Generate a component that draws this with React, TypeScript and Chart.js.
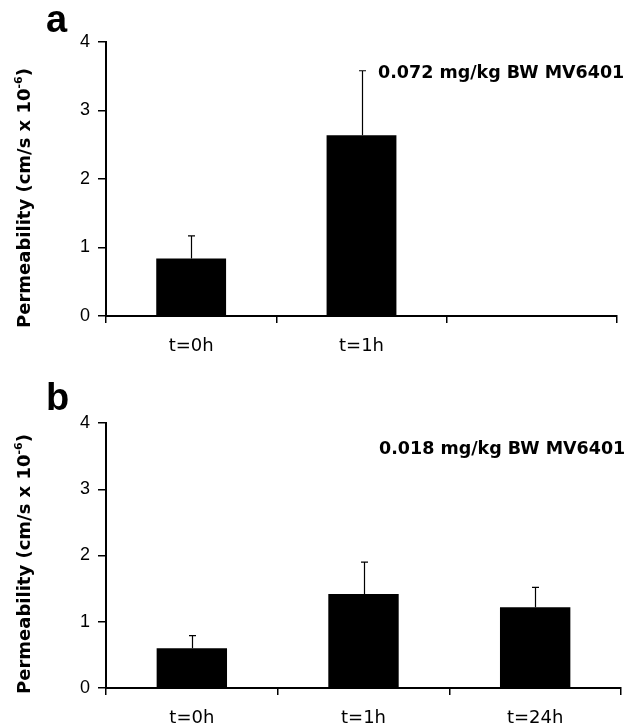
import React, { useEffect, useRef } from "react";
import { Chart, registerables } from "chart.js";

Chart.register(...registerables);

// ---- data ----
const labelsA = ["t=0h", "t=1h", ""];
const valuesA = [0.84, 2.64, null];
const errorsA = [0.33, 0.94, null];

const labelsB = ["t=0h", "t=1h", "t=24h"];
const valuesB = [0.6, 1.42, 1.22];
const errorsB = [0.19, 0.48, 0.3];

const yMin = 0;
const yMax = 4;
const yStep = 1;

const yTitleMain = "Permeability (cm/s x 10";
const yTitleSup = "-6";
const yTitleEnd = ")";

const annotationA = "0.072 mg/kg BW MV6401";
const annotationB = "0.018 mg/kg BW MV6401";

type PanelCfg = {
  letter: string;
  labels: string[];
  values: (number | null)[];
  errors: (number | null)[];
  annotation: string;
  top: number;
  right: number;
  bottom: number;
  letterBaseline: number;
  titleCenterY: number;
  annX: number;
  annBaseline: number;
};

const W = 630;
const H = 364;

const panels: PanelCfg[] = [
  {
    letter: "a",
    labels: labelsA,
    values: valuesA,
    errors: errorsA,
    annotation: annotationA,
    top: 42,
    right: 617,
    bottom: 316,
    letterBaseline: 32,
    titleCenterY: 198,
    annX: 378,
    annBaseline: 78,
  },
  {
    letter: "b",
    labels: labelsB,
    values: valuesB,
    errors: errorsB,
    annotation: annotationB,
    top: 59,
    right: 621,
    bottom: 324,
    letterBaseline: 46,
    titleCenterY: 200,
    annX: 379,
    annBaseline: 90,
  },
];

function Panel({ cfg }: { cfg: PanelCfg }) {
  const ref = useRef<HTMLCanvasElement | null>(null);

  useEffect(() => {
    if (!ref.current) return;
    const decor = {
      id: "decor",
      afterDatasetsDraw(chart: any) {
        const ctx = chart.ctx as CanvasRenderingContext2D;
        const ys = chart.scales.y;
        const meta = chart.getDatasetMeta(0);
        ctx.save();
        ctx.strokeStyle = "#000";
        ctx.lineWidth = 1.2;
        meta.data.forEach((bar: any, i: number) => {
          const v = cfg.values[i];
          const e = cfg.errors[i];
          if (v == null || e == null) return;
          const x = Math.round(bar.x) + 0.5;
          const yTop = ys.getPixelForValue(v + e);
          ctx.beginPath();
          ctx.moveTo(x, bar.y);
          ctx.lineTo(x, yTop);
          ctx.moveTo(x - 3.5, yTop);
          ctx.lineTo(x + 3.5, yTop);
          ctx.stroke();
        });
        ctx.restore();
      },
      afterDraw(chart: any) {
        const ctx = chart.ctx as CanvasRenderingContext2D;
        ctx.save();
        ctx.fillStyle = "#000";
        // panel letter
        ctx.font = "bold 38px 'Liberation Sans', Arial, sans-serif";
        ctx.textAlign = "left";
        ctx.textBaseline = "alphabetic";
        ctx.fillText(cfg.letter, 46, cfg.letterBaseline);
        // annotation
        ctx.font = "bold 17.5px 'DejaVu Sans', sans-serif";
        ctx.fillText(cfg.annotation, cfg.annX, cfg.annBaseline);
        // y title rotated
        ctx.translate(25, cfg.titleCenterY);
        ctx.rotate(-Math.PI / 2);
        const mainFont = "bold 18px 'DejaVu Sans', sans-serif";
        const supFont = "bold 11px 'DejaVu Sans', sans-serif";
        ctx.font = mainFont;
        const w1 = ctx.measureText(yTitleMain).width;
        const w3 = ctx.measureText(yTitleEnd).width;
        ctx.font = supFont;
        const w2 = ctx.measureText(yTitleSup).width;
        const start = -(w1 + w2 + w3) / 2;
        ctx.textBaseline = "middle";
        ctx.font = mainFont;
        ctx.fillText(yTitleMain, start, 0);
        ctx.font = supFont;
        ctx.fillText(yTitleSup, start + w1, -6);
        ctx.font = mainFont;
        ctx.fillText(yTitleEnd, start + w1 + w2, 0);
        ctx.restore();
      },
    };

    const chart = new Chart(ref.current, {
      type: "bar",
      data: {
        labels: cfg.labels,
        datasets: [
          {
            data: cfg.values as any,
            backgroundColor: "#000",
            borderWidth: 0,
            barPercentage: 0.41,
            categoryPercentage: 1,
          },
        ],
      },
      options: {
        animation: false,
        responsive: false,
        events: [],
        layout: {
          padding: { left: 0, right: W - cfg.right, top: cfg.top, bottom: 0 },
        },
        plugins: {
          legend: { display: false },
          tooltip: { enabled: false },
          title: { display: false },
        },
        scales: {
          x: {
            grid: {
              display: true,
              drawOnChartArea: false,
              drawTicks: true,
              tickLength: 7,
              color: "#000",
              lineWidth: 1.5,
              offset: true,
            },
            border: { display: true, color: "#000", width: 2 },
            ticks: {
              color: "#000",
              font: { family: "'DejaVu Sans', sans-serif", size: 18 },
              padding: 13,
              maxRotation: 0,
              autoSkip: false,
            },
            afterFit: (s: any) => {
              s.height = H - cfg.bottom;
            },
          },
          y: {
            min: yMin,
            max: yMax,
            ticks: {
              stepSize: yStep,
              color: "#000",
              font: { family: "'Liberation Sans', Arial, sans-serif", size: 18 },
              padding: 8,
            },
            grid: {
              drawOnChartArea: false,
              drawTicks: true,
              tickLength: 8,
              color: "#000",
              lineWidth: 1.5,
            },
            border: { display: true, color: "#000", width: 2 },
            afterFit: (s: any) => {
              s.width = 106;
            },
          },
        },
      },
      plugins: [decor],
    });
    return () => chart.destroy();
  }, [cfg]);

  return (
    <canvas
      ref={ref}
      width={W}
      height={H}
      style={{ display: "block", width: W, height: H }}
    />
  );
}

export default function App() {
  return (
    <div
      style={{
        position: "absolute",
        left: 0,
        top: 0,
        width: W,
        height: H * 2,
        background: "#fff",
      }}
    >
      {panels.map((p) => (
        <Panel key={p.letter} cfg={p} />
      ))}
    </div>
  );
}
